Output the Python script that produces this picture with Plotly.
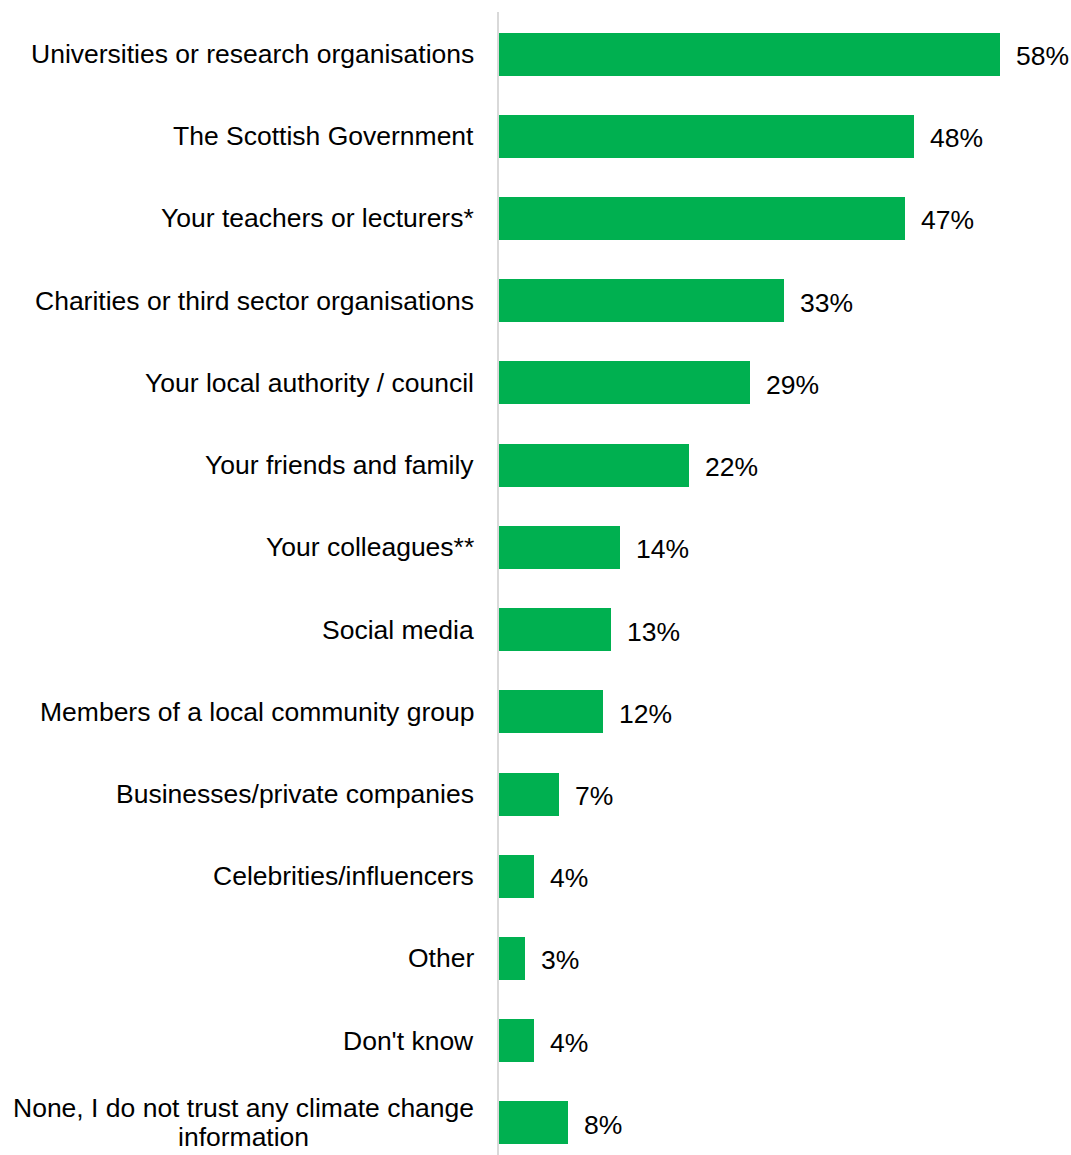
import plotly.graph_objects as go

# Sources of climate change information people trust
categories = [
    "Universities or research organisations",
    "The Scottish Government",
    "Your teachers or lecturers*",
    "Charities or third sector organisations",
    "Your local authority / council",
    "Your friends and family",
    "Your colleagues**",
    "Social media",
    "Members of a local community group",
    "Businesses/private companies",
    "Celebrities/influencers",
    "Other",
    "Don't know",
    "None, I do not trust any climate change<br>information",
]
values = [58, 48, 47, 33, 29, 22, 14, 13, 12, 7, 4, 3, 4, 8]
value_labels = [f"{v}%" for v in values]

GREEN = "#00B050"
FONT = "Liberation Sans, Arial, sans-serif"
LABEL_SIZE = 26.5
LINE_STEP = 29  # px between lines of a wrapped category label

positions = list(range(len(categories)))

fig = go.Figure(
    go.Bar(
        x=values,
        y=positions,
        orientation="h",
        width=0.523,
        marker=dict(color=GREEN, line=dict(width=0)),
        hoverinfo="skip",
    )
)

annotations = []
# Category labels to the left of the axis; wrapped labels are centred line by line
for pos, cat in zip(positions, categories):
    lines = cat.split("<br>")
    n = len(lines)
    for k, line in enumerate(lines):
        shift = ((n - 1) / 2 - k) * LINE_STEP
        annotations.append(
            dict(
                x=0, xref="paper", y=pos, yref="y",
                text=line, showarrow=False,
                xanchor="right" if n == 1 else "center",
                yanchor="middle",
                xshift=-23 if n == 1 else -256,
                yshift=shift,
                font=dict(family=FONT, size=LABEL_SIZE, color="#000000"),
            )
        )
# Value labels just past the end of each bar
for pos, v, lab in zip(positions, values, value_labels):
    annotations.append(
        dict(
            x=v, xref="x", y=pos, yref="y",
            text=lab, showarrow=False,
            xanchor="left", yanchor="middle",
            xshift=14, yshift=-2,
            font=dict(family=FONT, size=LABEL_SIZE, color="#000000"),
        )
    )

fig.update_layout(
    width=1071,
    height=1155,
    margin=dict(l=499, r=0, t=12, b=0),
    paper_bgcolor="white",
    plot_bgcolor="white",
    showlegend=False,
    bargap=0,
    annotations=annotations,
    font=dict(family=FONT, size=LABEL_SIZE, color="#000000"),
)
fig.update_xaxes(
    range=[0, 572 / 8.64],
    showgrid=False, zeroline=False, showticklabels=False, showline=False,
    fixedrange=True,
)
fig.update_yaxes(
    range=[13.39, -0.511],
    showgrid=False, zeroline=False, showticklabels=False,
    showline=True, linecolor="#D9D9D9", linewidth=2,
    fixedrange=True,
)

fig.write_html("out.html", config=dict(displayModeBar=False))
